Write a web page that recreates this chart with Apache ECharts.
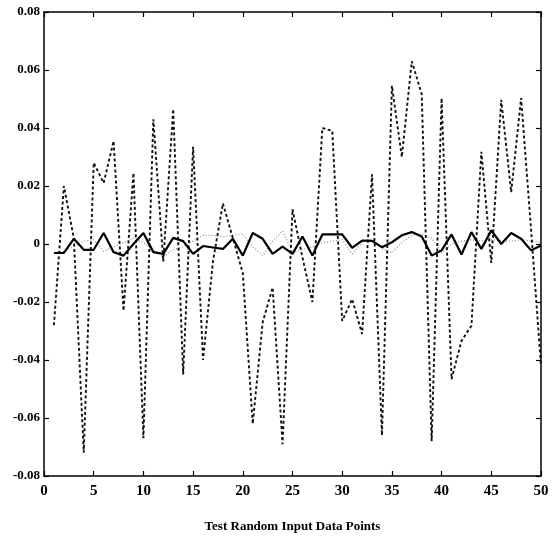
<!DOCTYPE html>
<html>
<head>
<meta charset="utf-8">
<script src="https://cdn.jsdelivr.net/npm/echarts@6/dist/echarts.min.js"></script>
<style>
  html, body { margin: 0; padding: 0; background: #fff; }
  #chart { width: 555px; height: 545px; }
</style>
</head>
<body>
<div id="chart"></div>
<script>
// Test point index (x axis)
const points = [1,2,3,4,5,6,7,8,9,10,11,12,13,14,15,16,17,18,19,20,21,22,23,24,25,
                26,27,28,29,30,31,32,33,34,35,36,37,38,39,40,41,42,43,44,45,46,47,48,49,50];

// Error of the first model (dashed)
const errorDashed = [-0.028, 0.020, 0.002, -0.072, 0.028, 0.021, 0.0355, -0.023, 0.0245, -0.067,
                     0.043, -0.006, 0.0465, -0.045, 0.0335, -0.040, -0.006, 0.014, 0.002, -0.010,
                     -0.062, -0.027, -0.015, -0.069, 0.012, -0.0046, -0.020, 0.040, 0.039, -0.0265,
                     -0.019, -0.031, 0.024, -0.066, 0.0546, 0.030, 0.063, 0.0517, -0.068, 0.0503,
                     -0.0466, -0.0334, -0.0282, 0.0318, -0.0065, 0.0497, 0.0179, 0.0503, 0.005, -0.042];

// Error of the second model (solid)
const errorSolid = [-0.0031, -0.0031, 0.0018, -0.0020, -0.0020, 0.0038, -0.0028, -0.0040, 0.0000, 0.0038,
                    -0.0028, -0.0034, 0.0021, 0.0010, -0.0034, -0.0007, -0.0012, -0.0017, 0.0018, -0.0040,
                    0.0038, 0.0018, -0.0034, -0.0009, -0.0034, 0.0026, -0.0040, 0.0033, 0.0033, 0.0033,
                    -0.0013, 0.0012, 0.0011, -0.0011, 0.0006, 0.0030, 0.0041, 0.0026, -0.0040, -0.0022,
                    0.0033, -0.0036, 0.0041, -0.0017, 0.0047, 0.0000, 0.0038, 0.0018, -0.0022, -0.0005];

// Error of the third model (dotted)
const errorDotted = [-0.0030, -0.0025, -0.0010, 0.0010, 0.0015, -0.0025, -0.0010, 0.0005, 0.0020, 0.0005,
                     -0.0020, -0.0045, -0.0020, -0.0010, 0.0010, 0.0030, 0.0030, 0.0025, 0.0030, 0.0035,
                     -0.0010, -0.0040, 0.0010, 0.0045, -0.0030, -0.0020, -0.0010, 0.0005, 0.0010, 0.0015,
                     -0.0035, 0.0005, 0.0015, -0.0015, -0.0030, 0.0005, 0.0030, 0.0035, 0.0020, -0.0030,
                     0.0000, 0.0010, 0.0015, 0.0010, 0.0015, 0.0012, 0.0010, 0.0015, 0.0010, 0.0005];

const xTicks = { min: 0, max: 50, interval: 5 };
const yTicks = { min: -0.08, max: 0.08, interval: 0.02 };
const xTitle = 'Test Random Input Data Points';

const pair = arr => points.map((x, i) => [x, arr[i]]);
const font = 'Liberation Serif, Times New Roman, serif';

const axisLine = { show: true, onZero: false, lineStyle: { color: '#000', width: 1.5 } };
const tickIn = { show: true, inside: true, length: 5, lineStyle: { color: '#000', width: 1.2 } };

const chart = echarts.init(document.getElementById('chart'), null, { renderer: 'canvas' });
chart.setOption({
  animation: false,
  backgroundColor: '#fff',
  grid: { left: 44, right: 14, top: 12, bottom: 69 },
  xAxis: [
    {
      type: 'value', position: 'bottom',
      min: xTicks.min, max: xTicks.max, interval: xTicks.interval,
      axisLine, axisTick: tickIn, splitLine: { show: false },
      axisLabel: { color: '#000', fontFamily: font, fontSize: 15, fontWeight: 'bold', margin: 8 },
      name: xTitle, nameLocation: 'middle', nameGap: 44,
      nameTextStyle: { color: '#000', fontFamily: font, fontSize: 13, fontWeight: 'bold' }
    },
    {
      type: 'value', position: 'top',
      min: xTicks.min, max: xTicks.max, interval: xTicks.interval,
      axisLine, axisTick: tickIn, axisLabel: { show: false }, splitLine: { show: false }
    }
  ],
  yAxis: [
    {
      type: 'value', position: 'left',
      min: yTicks.min, max: yTicks.max, interval: yTicks.interval,
      axisLine, axisTick: tickIn, splitLine: { show: false },
      axisLabel: {
        color: '#000', fontFamily: font, fontSize: 13, fontWeight: 'bold', margin: 4,
        formatter: v => Math.abs(v) < 1e-9 ? '0' : v.toFixed(2)
      }
    },
    {
      type: 'value', position: 'right',
      min: yTicks.min, max: yTicks.max, interval: yTicks.interval,
      axisLine, axisTick: tickIn, axisLabel: { show: false }, splitLine: { show: false }
    }
  ],
  series: [
    {
      type: 'line', data: pair(errorDotted), symbol: 'none',
      lineStyle: { color: '#8c8c8c', width: 1.2, type: [1, 2] }, z: 2
    },
    {
      type: 'line', data: pair(errorDashed), symbol: 'none',
      lineStyle: { color: '#111', width: 1.9, type: [3, 2.5] }, z: 3
    },
    {
      type: 'line', data: pair(errorSolid), symbol: 'none',
      lineStyle: { color: '#000', width: 2.2 }, z: 4
    }
  ]
});
</script>
</body>
</html>
